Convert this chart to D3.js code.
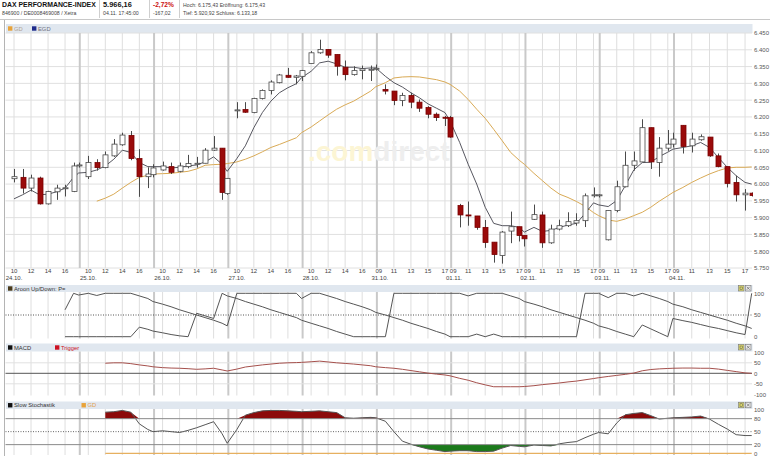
<!DOCTYPE html>
<html><head><meta charset="utf-8">
<script src="https://cdn.jsdelivr.net/npm/d3@7"></script>
<style>
html,body{margin:0;padding:0;background:#fff;}
svg{display:block;font-family:"Liberation Sans",Arial,sans-serif;}
</style></head><body>
<svg id="c" width="770" height="456"></svg>
<script>
// ---------------- DATA ----------------
const days = ["24.10.","25.10.","26.10.","27.10.","28.10.","31.10.","01.11.","02.11.","03.11.","04.11."];
const dayHours = [10,11,12,13,14,15,16,17,17.6];      // candle end times (last = closing auction)
const lastDayHours = [10,11,12,13,14,15,16,17,17.75];  // 04.11. last quote 17:45
const tickHoursEarly = [10,12,14,16];
const tickHoursLate = [9,11,13,15,17];
const priceTicks = [5750,5800,5850,5900,5950,6000,6050,6100,6150,6200,6250,6300,6350,6400,6450];

const open = [
6016,6020,5988,6018,5941,5977,5987,5978,6054,
6022,6064,6049,6084,6117,6145,6076,6022,6028,
6042,6052,6038,6052,6061,6062,6101,6107,5972,
6220,6222,6213,6255,6279,6302,6324,6318,6321,
6359,6391,6401,6386,6348,6326,6338,6341,6342,
6282,6277,6249,6264,6244,6228,6208,6199,6198,
5936,5908,5905,5871,5827,5787,5860,5873,5847,
5895,5908,5825,5866,5876,5884,5891,5967,5967,
5834,5921,5992,6056,6066,6168,6064,6107,6119,
6175,6114,6132,6140,6084,6052,6005,5968,5973];
const high = [
6045,6045,6028,6022,5980,5998,5998,6064,6064,
6084,6074,6097,6134,6153,6158,6104,6050,6059,
6067,6064,6064,6087,6081,6107,6143,6107,6017,
6244,6244,6257,6282,6309,6328,6346,6325,6340,
6396,6430,6401,6386,6368,6351,6353,6353,6356,
6297,6277,6272,6272,6252,6232,6213,6203,6203,
5941,5948,5905,5893,5827,5860,5918,5873,5847,
5939,5918,5879,5894,5916,5913,5972,5990,5970,
5921,6010,6097,6097,6193,6168,6140,6161,6153,
6175,6153,6148,6140,6091,6052,6025,5985,5975];
const low = [
6005,5972,5978,5939,5939,5953,5963,5976,6049,
6015,6040,6047,6081,6114,6071,5962,5988,6020,
6040,6030,6035,6047,6049,6062,6099,5953,5968,
6196,6212,6211,6252,6267,6300,6317,6297,6307,
6359,6388,6376,6323,6309,6323,6312,6307,6338,
6267,6235,6232,6226,6215,6196,6188,6173,6138,
5871,5876,5864,5810,5766,5763,5824,5829,5814,
5893,5810,5822,5862,5872,5876,5872,5960,5960,
5832,5916,5990,6040,6066,6045,6022,6099,6109,
6091,6094,6129,6081,6050,5990,5948,5921,5963];
const close = [
6022,5988,6018,5941,5978,5988,5989,6054,6057,
6064,6049,6087,6119,6146,6076,6022,6030,6048,
6054,6035,6054,6061,6062,6101,6107,5975,6017,
6221,6214,6255,6279,6304,6325,6318,6322,6338,
6391,6401,6384,6351,6326,6338,6343,6342,6345,
6277,6249,6264,6244,6226,6208,6198,6198,6140,
5908,5907,5871,5826,5790,5857,5873,5847,5837,
5909,5825,5866,5876,5888,5891,5965,5968,5968,
5921,5992,6056,6069,6168,6066,6107,6119,6134,
6112,6134,6141,6084,6052,6002,5968,5973,5966];

const egd = [
5956,5968,5982,5968,5970,5977,5988,6020,6033,
6035,6042,6054,6074,6101,6094,6064,6052,6052,
6052,6048,6050,6054,6057,6066,6081,6059,6038,
6076,6114,6168,6213,6247,6272,6287,6299,6317,
6336,6361,6366,6358,6348,6348,6344,6346,6346,
6321,6302,6289,6272,6257,6239,6226,6213,6188,
6124,6059,6000,5931,5883,5876,5876,5871,5857,
5871,5859,5862,5871,5878,5883,5912,5944,5938,
5933,5951,5995,6042,6064,6065,6082,6095,6104,
6109,6114,6124,6109,6079,6050,6025,6005,6000];
const gd = [
null,null,null,null,null,null,null,null,null,
null,5949,5958,5970,5988,6005,6020,6026,6030,
6031,6032,6035,6038,6045,6056,6058,6059,6061,
6066,6074,6084,6096,6109,6118,6128,6138,6153,
6170,6188,6206,6223,6236,6247,6262,6277,6290,
6302,6316,6319,6320,6319,6315,6311,6304,6297,
6277,6252,6223,6196,6163,6129,6094,6071,6059,
6032,6010,5988,5970,5960,5948,5934,5915,5906,
5893,5889,5896,5906,5916,5931,5949,5965,5975,
5990,6005,6018,6030,6040,6048,6050,6050,6051];

const aroonUp = [
null,null,null,null,null,null,62,100,96,
100,95,100,100,100,100,94,88,81,
75,69,62,56,50,44,38,31,25,
100,100,100,100,100,100,100,100,88,
100,100,94,88,81,75,69,62,56,
50,44,38,31,25,19,12,6,0,
0,0,6,0,6,0,0,0,0,
0,0,0,0,0,0,100,100,100,
90,100,100,94,100,94,88,81,75,
69,62,56,50,44,38,31,25,19];
const aroonDown = [
null,null,null,null,null,null,0,0,0,
0,0,0,0,0,0,22,17,13,
9,5,2,0,54,48,42,100,94,
88,81,75,69,62,56,50,44,38,
31,25,19,12,6,0,0,0,0,
0,100,100,100,100,100,100,100,100,
100,94,100,100,100,100,94,88,81,
75,69,62,56,50,44,38,31,25,
19,12,6,0,27,18,9,0,42,
37,33,28,23,19,14,9,5,100];

const macd = [
null,null,null,null,null,null,null,null,null,
null,null,48,50,50,46,40,35,31,
27,25,24,22,19,21,24,16,11,
20,30,35,40,44,48,50,51,52,
55,58,54,50,47,44,40,36,31,
27,24,19,13,7,1,-4,-8,-12,
-24,-33,-45,-55,-64,-64,-64,-64,-63,
-59,-54,-50,-46,-41,-37,-31,-25,-21,
-15,-10,-5,1,12,18,21,23,24,
25,25,24,24,20,14,8,2,0];

const slowStoch = [
null,null,null,null,null,null,null,null,null,
null,null,95,96,99,95,68,55,50,
52,50,48,53,59,66,73,45,23,
55,88,94,98,99,99,98,97,96,
97,98,96,94,82,81,82,83,82,
74,50,28,21,15,10,7,4,5,
6,6,4,4,5,12,18,16,15,
19,18,17,22,25,27,36,44,48,
45,70,89,92,94,87,79,81,82,
83,84,86,79,67,56,43,41,41];
const stochGd = [
null,null,null,null,null,null,null,null,null,
null,null,0,0,0,0,0,0,0,
0,0,0,0,0,0,0,0,0,
0,0,0,0,0,0,0,0,0,
0,0,0,0,0,0,0,0,0,
0,0,0,0,0,0,0,0,0,
0,0,0,0,0,0,0,0,0,
0,0,0,0,0,0,0,0,0,
0,0,0,0,0,0,0,0,0,
0,0,0,0,0,0,0,0,0];

const aroonTicks = [0,50,100];
const macdTicks = [-100,-50,0,50,100];
const stochTicks = [0,20,50,80,100];

// ---------------- LAYOUT ----------------
const W = 770;
const DAY = 8.73;   // trading hours shown per day on the axis
const PL = 5.5, PR = 753;
const svg = d3.select("#c");
const de = d3.formatLocale({decimal:",", thousands:".", grouping:[3], currency:["","€"]});
const fmtP = de.format(",.0f");

const nDays = days.length;
const times = [];
days.forEach((d,i)=>{
  (i === nDays-1 ? lastDayHours : dayHours).forEach(h => times.push(i*DAY + h - 9));
});
const x = d3.scaleLinear()
  .domain([0, (nDays-1)*DAY, (nDays-1)*DAY + lastDayHours[lastDayHours.length-1] - 9])
  .range([PL, 674, 751.7]);

// ticks
const ticks = [];
days.forEach((d,i)=>{
  const hs = i < 5 ? tickHoursEarly : tickHoursLate;
  hs.forEach((h,j)=> ticks.push({t: i*DAY + h - 9, h, day: j===0 ? d : null}));
});
const separators = d3.range(1, nDays).map(i => i*DAY);

// clip
svg.append("defs").append("clipPath").attr("id","clipx")
  .append("rect").attr("x",PL).attr("y",0).attr("width",PR-PL).attr("height",456);

// ---------- header ----------
const hdr = svg.append("g");
hdr.append("text").attr("x",2).attr("y",7.4).attr("font-size",6.9).attr("font-weight","bold")
  .attr("fill","#111").text("DAX PERFORMANCE-INDEX");
hdr.append("text").attr("x",103).attr("y",7.4).attr("font-size",7.4).attr("font-weight","bold")
  .attr("fill","#111").text("5.966,16");
hdr.append("text").attr("x",153).attr("y",7.4).attr("font-size",6.6).attr("font-weight","bold")
  .attr("fill","#cc1111").text("-2,72%");
const small = [
  [2,15,"846900 / DE0008469008 / Xetra"],
  [103,15,"04.11. 17:45:00"],
  [153,15,"-167,02"],
  [183,7,"Hoch: 6.175,43  Eröffnung: 6.175,43"],
  [183,15,"Tief: 5.920,92  Schluss: 6.133,18"]
];
small.forEach(s => hdr.append("text").attr("x",s[0]).attr("y",s[1]).attr("font-size",5.2)
  .attr("fill","#444").text(s[2]));
[99.5,149.5,179.5].forEach(v => hdr.append("line").attr("x1",v).attr("x2",v).attr("y1",0).attr("y2",18).attr("stroke","#cfcfcf"));
svg.append("line").attr("x1",0).attr("x2",W).attr("y1",19.5).attr("y2",19.5).attr("stroke","#c8c8c8");
svg.append("line").attr("x1",4.5).attr("x2",4.5).attr("y1",20).attr("y2",456).attr("stroke","#b4b4b4");

// ---------- panel helpers ----------
function band(y0, y1, items, icons){
  svg.append("rect").attr("x",PL+0.5).attr("y",y0).attr("width",752-PL).attr("height",y1-y0).attr("fill","#e0e7ef");
  items.forEach(it=>{
    const px = it.x;
    svg.append("rect").attr("x",px).attr("y",y0+(y1-y0)/2-2.2).attr("width",4.4).attr("height",4.4).attr("fill",it.sq);
    svg.append("text").attr("x",px+6).attr("y",y0+(y1-y0)/2+2.1).attr("font-size",5.8).attr("fill",it.tc).text(it.label);
  });
  if(icons){
    const yy = y0 + (y1-y0)/2 - 3;
    svg.append("rect").attr("x",738.5).attr("y",yy).attr("width",5.5).attr("height",5.5).attr("fill","#dcd86a").attr("stroke","#777").attr("stroke-width",0.6);
    svg.append("rect").attr("x",740).attr("y",yy+1.5).attr("width",2.5).attr("height",2.5).attr("fill","none").attr("stroke","#555").attr("stroke-width",0.5);
    svg.append("rect").attr("x",745.5).attr("y",yy).attr("width",5.5).attr("height",5.5).attr("fill","#e8e8e8").attr("stroke","#777").attr("stroke-width",0.6);
    svg.append("path").attr("d",`M746.8,${yy+1.3}L749.7,${yy+4.2}M749.7,${yy+1.3}L746.8,${yy+4.2}`).attr("stroke","#555").attr("stroke-width",0.6);
  }
}
function vgrid(y0, y1){
  const g = svg.append("g");
  g.selectAll("line.h").data(ticks.filter(d=>d.h!==9)).join("line")
    .attr("x1",d=>x(d.t)).attr("x2",d=>x(d.t)).attr("y1",y0).attr("y2",y1)
    .attr("stroke","#dedede").attr("stroke-width",1);
  g.selectAll("line.s").data(separators).join("line")
    .attr("x1",d=>x(d)).attr("x2",d=>x(d)).attr("y1",y0).attr("y2",y1)
    .attr("stroke","#c9c9c9").attr("stroke-width",2);
}
function yLabels(scale, vals, fmt){
  const ax = d3.axisRight(scale).tickValues(vals).tickSize(0).tickPadding(0).tickFormat(fmt);
  const g = svg.append("g").attr("transform","translate(754,0)").call(ax);
  g.select(".domain").remove();
  g.selectAll("text").attr("font-size",6).attr("fill","#555").attr("font-family","Liberation Sans, Arial, sans-serif");
}
function seriesLine(g, arr, scale, color, width){
  g.append("path").datum(arr.map((v,i)=>[times[i],v]))
    .attr("fill","none").attr("stroke",color).attr("stroke-width",width)
    .attr("d", d3.line().defined(d=>d[1]!=null).x(d=>x(d[0])).y(d=>scale(d[1])));
}

// ---------- MAIN PANEL ----------
const yM = d3.scaleLinear().domain([5750,6450]).range([268,33]);
band(24, 33, [{x:8, sq:"#e8a33a", tc:"#b0a090", label:"GD"},{x:32, sq:"#1f2c8c", tc:"#707080", label:"EGD"}], false);
svg.append("g").selectAll("line").data(priceTicks).join("line")
  .attr("x1",PL).attr("x2",752).attr("y1",d=>yM(d)).attr("y2",d=>yM(d)).attr("stroke","#e0e0e0");
vgrid(33, 268);
// watermark
const wm = svg.append("text").attr("x",308).attr("y",161).attr("font-size",28).attr("font-weight","bold");
wm.append("tspan").attr("fill","#fcf5d4").text(".com");
wm.append("tspan").attr("fill","#eeeeee").text("direct");

const main = svg.append("g").attr("clip-path","url(#clipx)");
seriesLine(main, gd, yM, "#d9aa55", 1);
seriesLine(main, egd, yM, "#44444e", 0.9);
// candles
const cd = open.map((o,i)=>({t:times[i], o, h:high[i], l:low[i], c:close[i]}));
const cg = main.append("g");
cg.selectAll("line").data(cd).join("line")
  .attr("x1",d=>Math.round(x(d.t))+0.5).attr("x2",d=>Math.round(x(d.t))+0.5)
  .attr("y1",d=>yM(d.h)).attr("y2",d=>yM(d.l)).attr("stroke","#4a4a4a").attr("stroke-width",1);
cg.selectAll("rect").data(cd).join("rect")
  .attr("x",d=>Math.round(x(d.t))-2)
  .attr("y",d=>yM(Math.max(d.o,d.c)))
  .attr("width",5)
  .attr("height",d=>Math.max(1, Math.abs(yM(d.o)-yM(d.c))))
  .attr("fill",d=>d.c>=d.o ? "#ffffff" : "#9a0a0a")
  .attr("stroke",d=>d.c>=d.o ? "#4a4a4a" : "#7a0000").attr("stroke-width",0.8);
yLabels(yM, priceTicks, fmtP);

// x axis labels
const xl = svg.append("g");
xl.selectAll("text.h").data(ticks).join("text")
  .attr("x",d=>x(d.t)+(d.h===9?2:0)).attr("y",273.2).attr("text-anchor","middle")
  .attr("font-size",6).attr("fill","#444").text(d=>d.h<10?"0"+d.h:String(d.h));
xl.selectAll("text.d").data(ticks.filter(d=>d.day)).join("text")
  .attr("x",d=>x(d.t)+(d.h===9?3:0)).attr("y",280).attr("text-anchor","middle")
  .attr("font-size",6).attr("fill","#444").text(d=>d.day);

// ---------- AROON ----------
const yA = d3.scaleLinear().domain([0,100]).range([336.7,293.3]);
band(285, 292, [{x:8, sq:"#4a3b1c", tc:"#333", label:"Aroon Up/Down: P="}], true);
vgrid(292, 338.5);
svg.append("line").attr("x1",PL).attr("x2",752).attr("y1",yA(50)).attr("y2",yA(50))
  .attr("stroke","#555").attr("stroke-dasharray","1,1.5");
const ag = svg.append("g").attr("clip-path","url(#clipx)");
seriesLine(ag, aroonUp, yA, "#555", 1);
seriesLine(ag, aroonDown, yA, "#555", 1);
yLabels(yA, aroonTicks, d=>String(d));

// ---------- MACD ----------
const yD = d3.scaleLinear().domain([-100,100]).range([394.3,352.3]);
band(343.5, 351.5, [{x:8, sq:"#111", tc:"#333", label:"MACD"},{x:55, sq:"#cc1122", tc:"#cc1122", label:"Trigger"}], true);
vgrid(351.5, 395.5);
[-50,50].forEach(v=> svg.append("line").attr("x1",PL).attr("x2",752).attr("y1",yD(v)).attr("y2",yD(v)).attr("stroke","#e2e2e2"));
svg.append("line").attr("x1",PL).attr("x2",752).attr("y1",yD(0)).attr("y2",yD(0)).attr("stroke","#555");
seriesLine(svg.append("g").attr("clip-path","url(#clipx)"), macd, yD, "#a5504c", 1);
yLabels(yD, macdTicks, d=>String(d));

// ---------- SLOW STOCHASTIK ----------
const yS = d3.scaleLinear().domain([0,100]).range([453.3,410]);
band(401.5, 409, [{x:8, sq:"#111", tc:"#333", label:"Slow Stochastik"},{x:81.5, sq:"#e8a33a", tc:"#e0a050", label:"GD"}], true);
vgrid(409, 455);
const sg = svg.append("g").attr("clip-path","url(#clipx)");
const sd = slowStoch.map((v,i)=>[times[i],v]);
sg.append("path").datum(sd).attr("fill","#8c0a0a")
  .attr("d", d3.area().defined(d=>d[1]!=null).x(d=>x(d[0])).y0(yS(80)).y1(d=>yS(Math.max(80,d[1]))));
sg.append("path").datum(sd).attr("fill","#1b7a1b")
  .attr("d", d3.area().defined(d=>d[1]!=null).x(d=>x(d[0])).y0(yS(20)).y1(d=>yS(Math.min(20,d[1]))));
[80,20].forEach(v=> svg.append("line").attr("x1",PL).attr("x2",752).attr("y1",yS(v)).attr("y2",yS(v)).attr("stroke","#8a8a8a"));
svg.append("line").attr("x1",PL).attr("x2",752).attr("y1",yS(50)).attr("y2",yS(50)).attr("stroke","#666").attr("stroke-dasharray","1,1.5");
seriesLine(sg, stochGd, yS, "#e6b060", 1.2);
seriesLine(sg, slowStoch, yS, "#555", 1);
yLabels(yS, stochTicks, d=>String(d));
</script>
</body></html>
